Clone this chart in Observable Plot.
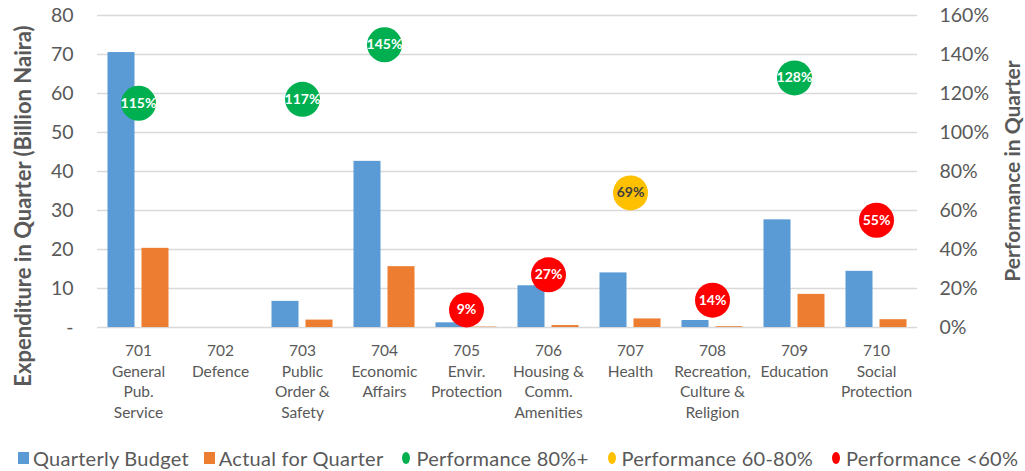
<!DOCTYPE html>
<html>
<head>
<meta charset="utf-8">
<script src="https://cdn.jsdelivr.net/npm/d3@7"></script>
<script src="https://cdn.jsdelivr.net/npm/@observablehq/plot@0.6"></script>
<style>
  html, body { margin: 0; padding: 0; background: #fff; }
  body { width: 1025px; height: 471px; position: relative; overflow: hidden; font-family: Lato, "Open Sans", sans-serif; color: #595959; }
  #chart { position: absolute; left: 0; top: 0; }
  .ytitle { position: absolute; font-weight: bold; font-size: 21px; color: #595959; white-space: nowrap; transform: translate(-50%, -50%) rotate(-90deg); }
  #legend { position: absolute; left: 18px; top: 446px; display: flex; align-items: center; font-size: 20px; letter-spacing: 0.25px; color: #595959; white-space: nowrap; }
  #legend .item { display: flex; align-items: center; margin-right: 15px; }
  #legend .sw { display: inline-block; margin-right: 4px; }
</style>
</head>
<body>
<div id="chart"></div>
<div class="ytitle" id="yl" style="left:22px; top:206px; font-size:22px;">Expenditure in Quarter (Billion Naira)</div>
<div class="ytitle" id="yr" style="left:1011px; top:171px;">Performance in Quarter</div>
<div id="legend"></div>
<script>
// ---- data ----
const codes = ["701", "702", "703", "704", "705", "706", "707", "708", "709", "710"];
const names = ["General\nPub.\nService", "Defence", "Public\nOrder &\nSafety", "Economic\nAffairs", "Envir.\nProtection", "Housing &\nComm.\nAmenities", "Health", "Recreation,\nCulture &\nReligion", "Education", "Social\nProtection"];
const budget = [70.5, 0, 6.7, 42.6, 1.2, 10.7, 14.0, 1.8, 27.6, 14.4];
const actual = [20.3, 0, 1.9, 15.6, 0.1, 0.5, 2.2, 0.2, 8.5, 2.0];
const performance = [115, null, 117, 145, 9, 27, 69, 14, 128, 55];
const seriesNames = ["Quarterly Budget", "Actual for Quarter"];
const classNames = ["Performance 80%+", "Performance 60-80%", "Performance <60%"];
const seriesColors = ["#5B9BD5", "#ED7D31"];
const classColors = ["#00B050", "#FFC000", "#FF0000"];
const leftTicks = [0, 10, 20, 30, 40, 50, 60, 70, 80];
const rightTicks = ["0%", "20%", "40%", "60%", "80%", "100%", "120%", "140%", "160%"];

// ---- tables ----
const bars = [];
codes.forEach((c, i) => {
  bars.push({code: c, series: seriesNames[0], value: budget[i]});
  bars.push({code: c, series: seriesNames[1], value: actual[i]});
});
const perfRows = codes.map((c, i) => ({code: c, perf: performance[i]}))
  .filter(d => d.perf != null)
  .map(d => ({...d, cls: d.perf >= 80 ? classNames[0] : d.perf >= 60 ? classNames[1] : classNames[2]}));
const labelOf = Object.fromEntries(codes.map((c, i) => [c, c + "\n" + names[i]]));

const chart = Plot.plot({
  width: 1025,
  height: 430,
  marginLeft: 93.5,
  marginRight: 104.5,
  marginTop: 15,
  marginBottom: 103,
  style: {fontFamily: "Lato, 'Open Sans', sans-serif", color: "#595959", background: "white"},
  fx: {domain: codes, padding: 0, label: null, axis: null},
  x: {domain: seriesNames, paddingInner: 0.213, paddingOuter: 0.295, axis: null},
  y: {domain: [0, 80], axis: null},
  color: {domain: [...seriesNames, ...classNames], range: [...seriesColors, ...classColors]},
  marks: [
    Plot.gridY(leftTicks, {stroke: "#D9D9D9", strokeOpacity: 1, strokeWidth: 1.3}),
    Plot.barY(bars, {fx: "code", x: "series", y: "value", fill: "series", inset: 0}),
    Plot.dot(perfRows, {fx: "code", y: d => d.perf / 2, r: 17.5, fill: "cls", stroke: "none"}),
    Plot.text(perfRows, {fx: "code", y: d => d.perf / 2, text: d => d.perf + "%", fill: d => d.cls === classNames[1] ? "#404040" : "white", fontWeight: "bold", fontSize: 14}),
    Plot.axisY(leftTicks, {anchor: "left", tickSize: 0, tickPadding: 24, fontSize: 19.5, label: null, tickFormat: d => d === 0 ? "-" : String(d)}),
    Plot.axisY(leftTicks, {anchor: "right", tickSize: 0, tickPadding: 22, fontSize: 19.5, label: null, tickFormat: d => rightTicks[leftTicks.indexOf(d)]}),
    Plot.axisFx({anchor: "bottom", tickSize: 0, tickPadding: 14, fontSize: 15.5, lineHeight: 1.33, label: null, tickFormat: d => labelOf[d]})
  ]
});
document.getElementById("chart").appendChild(chart);

// ---- legend ----
const legend = document.getElementById("legend");
const items = [
  ...seriesNames.map((n, i) => ({name: n, color: seriesColors[i], shape: "square"})),
  ...classNames.map((n, i) => ({name: n, color: classColors[i], shape: "circle"}))
];
items.forEach(it => {
  const el = document.createElement("span");
  el.className = "item";
  const sw = document.createElement("span");
  sw.className = "sw";
  if (it.shape === "square") {
    sw.style.cssText = `width:11px;height:12px;background:${it.color};`;
  } else {
    sw.style.cssText = `width:8px;height:12px;border-radius:50%;background:${it.color};margin-left:4px;margin-right:6px;`;
  }
  el.appendChild(sw);
  el.appendChild(document.createTextNode(it.name));
  legend.appendChild(el);
});
</script>
</body>
</html>
